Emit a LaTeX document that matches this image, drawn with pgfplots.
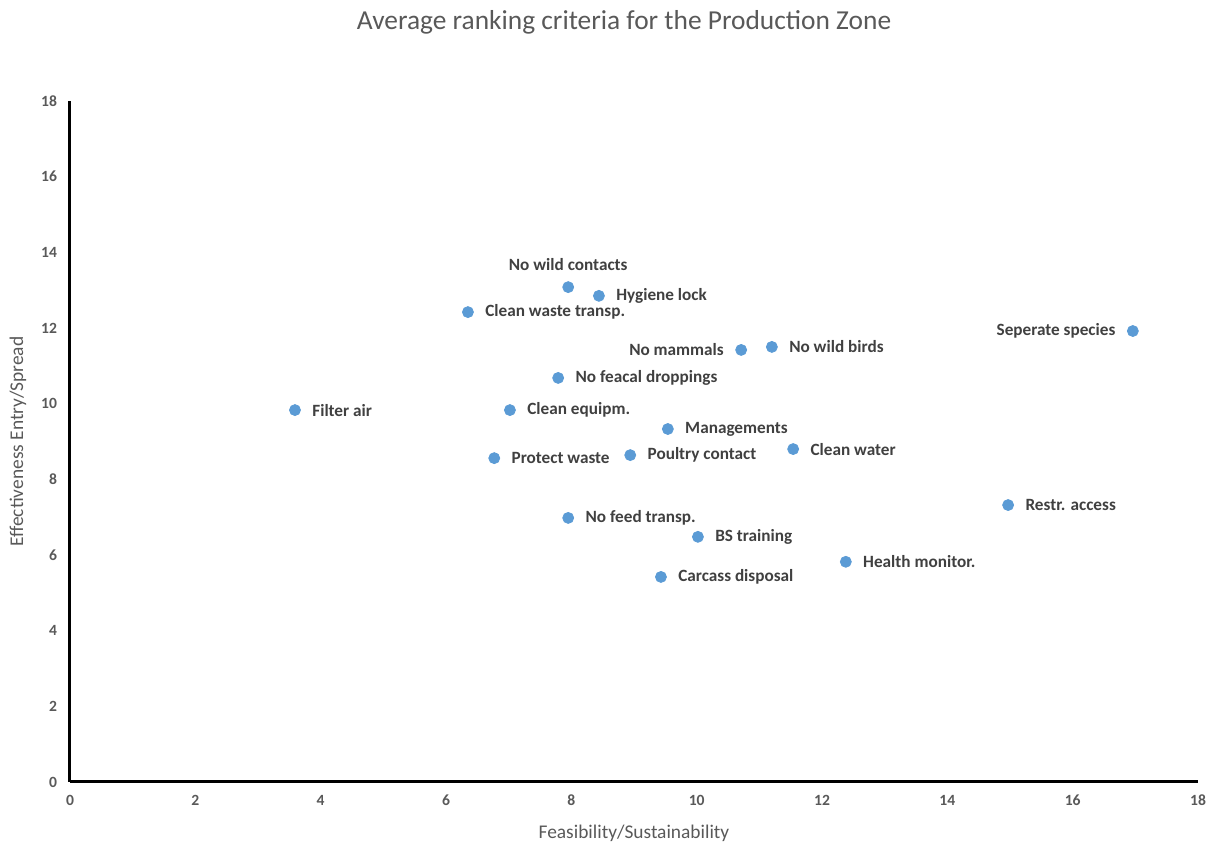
\documentclass[border=0pt]{standalone}
\usepackage{pgfplots}
\pgfplotsset{compat=1.18}
\usepackage{fontspec}
\setmainfont{Carlito}
\definecolor{ptblue}{HTML}{5B9BD5}
\definecolor{txtgray}{HTML}{595959}
\definecolor{lblgray}{HTML}{404040}
\begin{document}
\begin{tikzpicture}
\path (-35pt,-31pt) rectangle (575.5pt,391pt);
\begin{axis}[
  at={(0pt,0pt)}, anchor=south west,
  scale only axis, width=564pt, height=340.5pt,
  xmin=0, xmax=18, ymin=0, ymax=18,
  xtick={0,2,...,18}, ytick={0,2,...,18},
  axis x line*=bottom, axis y line*=left,
  axis line style={line width=1.5pt, black, -},
  major tick length=0pt,
  tick label style={font=\fontsize{7.8}{9}\selectfont\bfseries, text=txtgray},
  /pgf/number format/assume math mode=true,
  xticklabel style={yshift=-3pt},
  yticklabel style={xshift=-3pt},
  xlabel={Feasibility/Sustainability},
  ylabel={Effectiveness Entry/Spread},
  label style={font=\fontsize{9.7}{11}\selectfont, text=txtgray, inner sep=0pt},
  xlabel style={at={(0.5,0)}, anchor=center, yshift=-25.5pt},
  ylabel style={at={(0,0.5)}, anchor=center, yshift=26pt},
  clip=false,
  nodes near coords,
  point meta=explicit symbolic,
  every node near coord/.style={font=\fontsize{8.6}{10}\selectfont\bfseries, text=lblgray, inner sep=0pt},
]
\addplot[only marks, mark=*, mark size=2.75pt, color=ptblue,
  every node near coord/.append style={anchor=west, xshift=8.5pt}]
  table[meta=label, col sep=comma] {
x,y,label
3.59,9.83,Filter air
6.35,12.42,Clean waste transp.
8.44,12.85,Hygiene lock
11.20,11.50,No wild birds
7.79,10.68,No feacal droppings
7.02,9.83,Clean equipm.
9.54,9.33,Managements
11.54,8.80,Clean water
6.77,8.56,Protect waste
8.94,8.64,Poultry contact
14.97,7.32,Restr. access
7.95,6.98,No feed transp.
10.02,6.48,BS training
12.38,5.82,Health monitor.
9.43,5.42,Carcass disposal
};
\addplot[only marks, mark=*, mark size=2.75pt, color=ptblue,
  every node near coord/.append style={anchor=east, xshift=-8.5pt}]
  table[meta=label, col sep=comma] {
x,y,label
10.71,11.42,No mammals
16.96,11.92,Seperate species
};
\addplot[only marks, mark=*, mark size=2.75pt, color=ptblue,
  every node near coord/.append style={anchor=south, yshift=8pt}]
  table[meta=label, col sep=comma] {
x,y,label
7.95,13.08,No wild contacts
};
\end{axis}
\node[font=\fontsize{13.7}{16}\selectfont, text=txtgray, inner sep=0pt] at (277pt,380pt) {Average ranking criteria for the Production Zone};
\end{tikzpicture}
\end{document}
